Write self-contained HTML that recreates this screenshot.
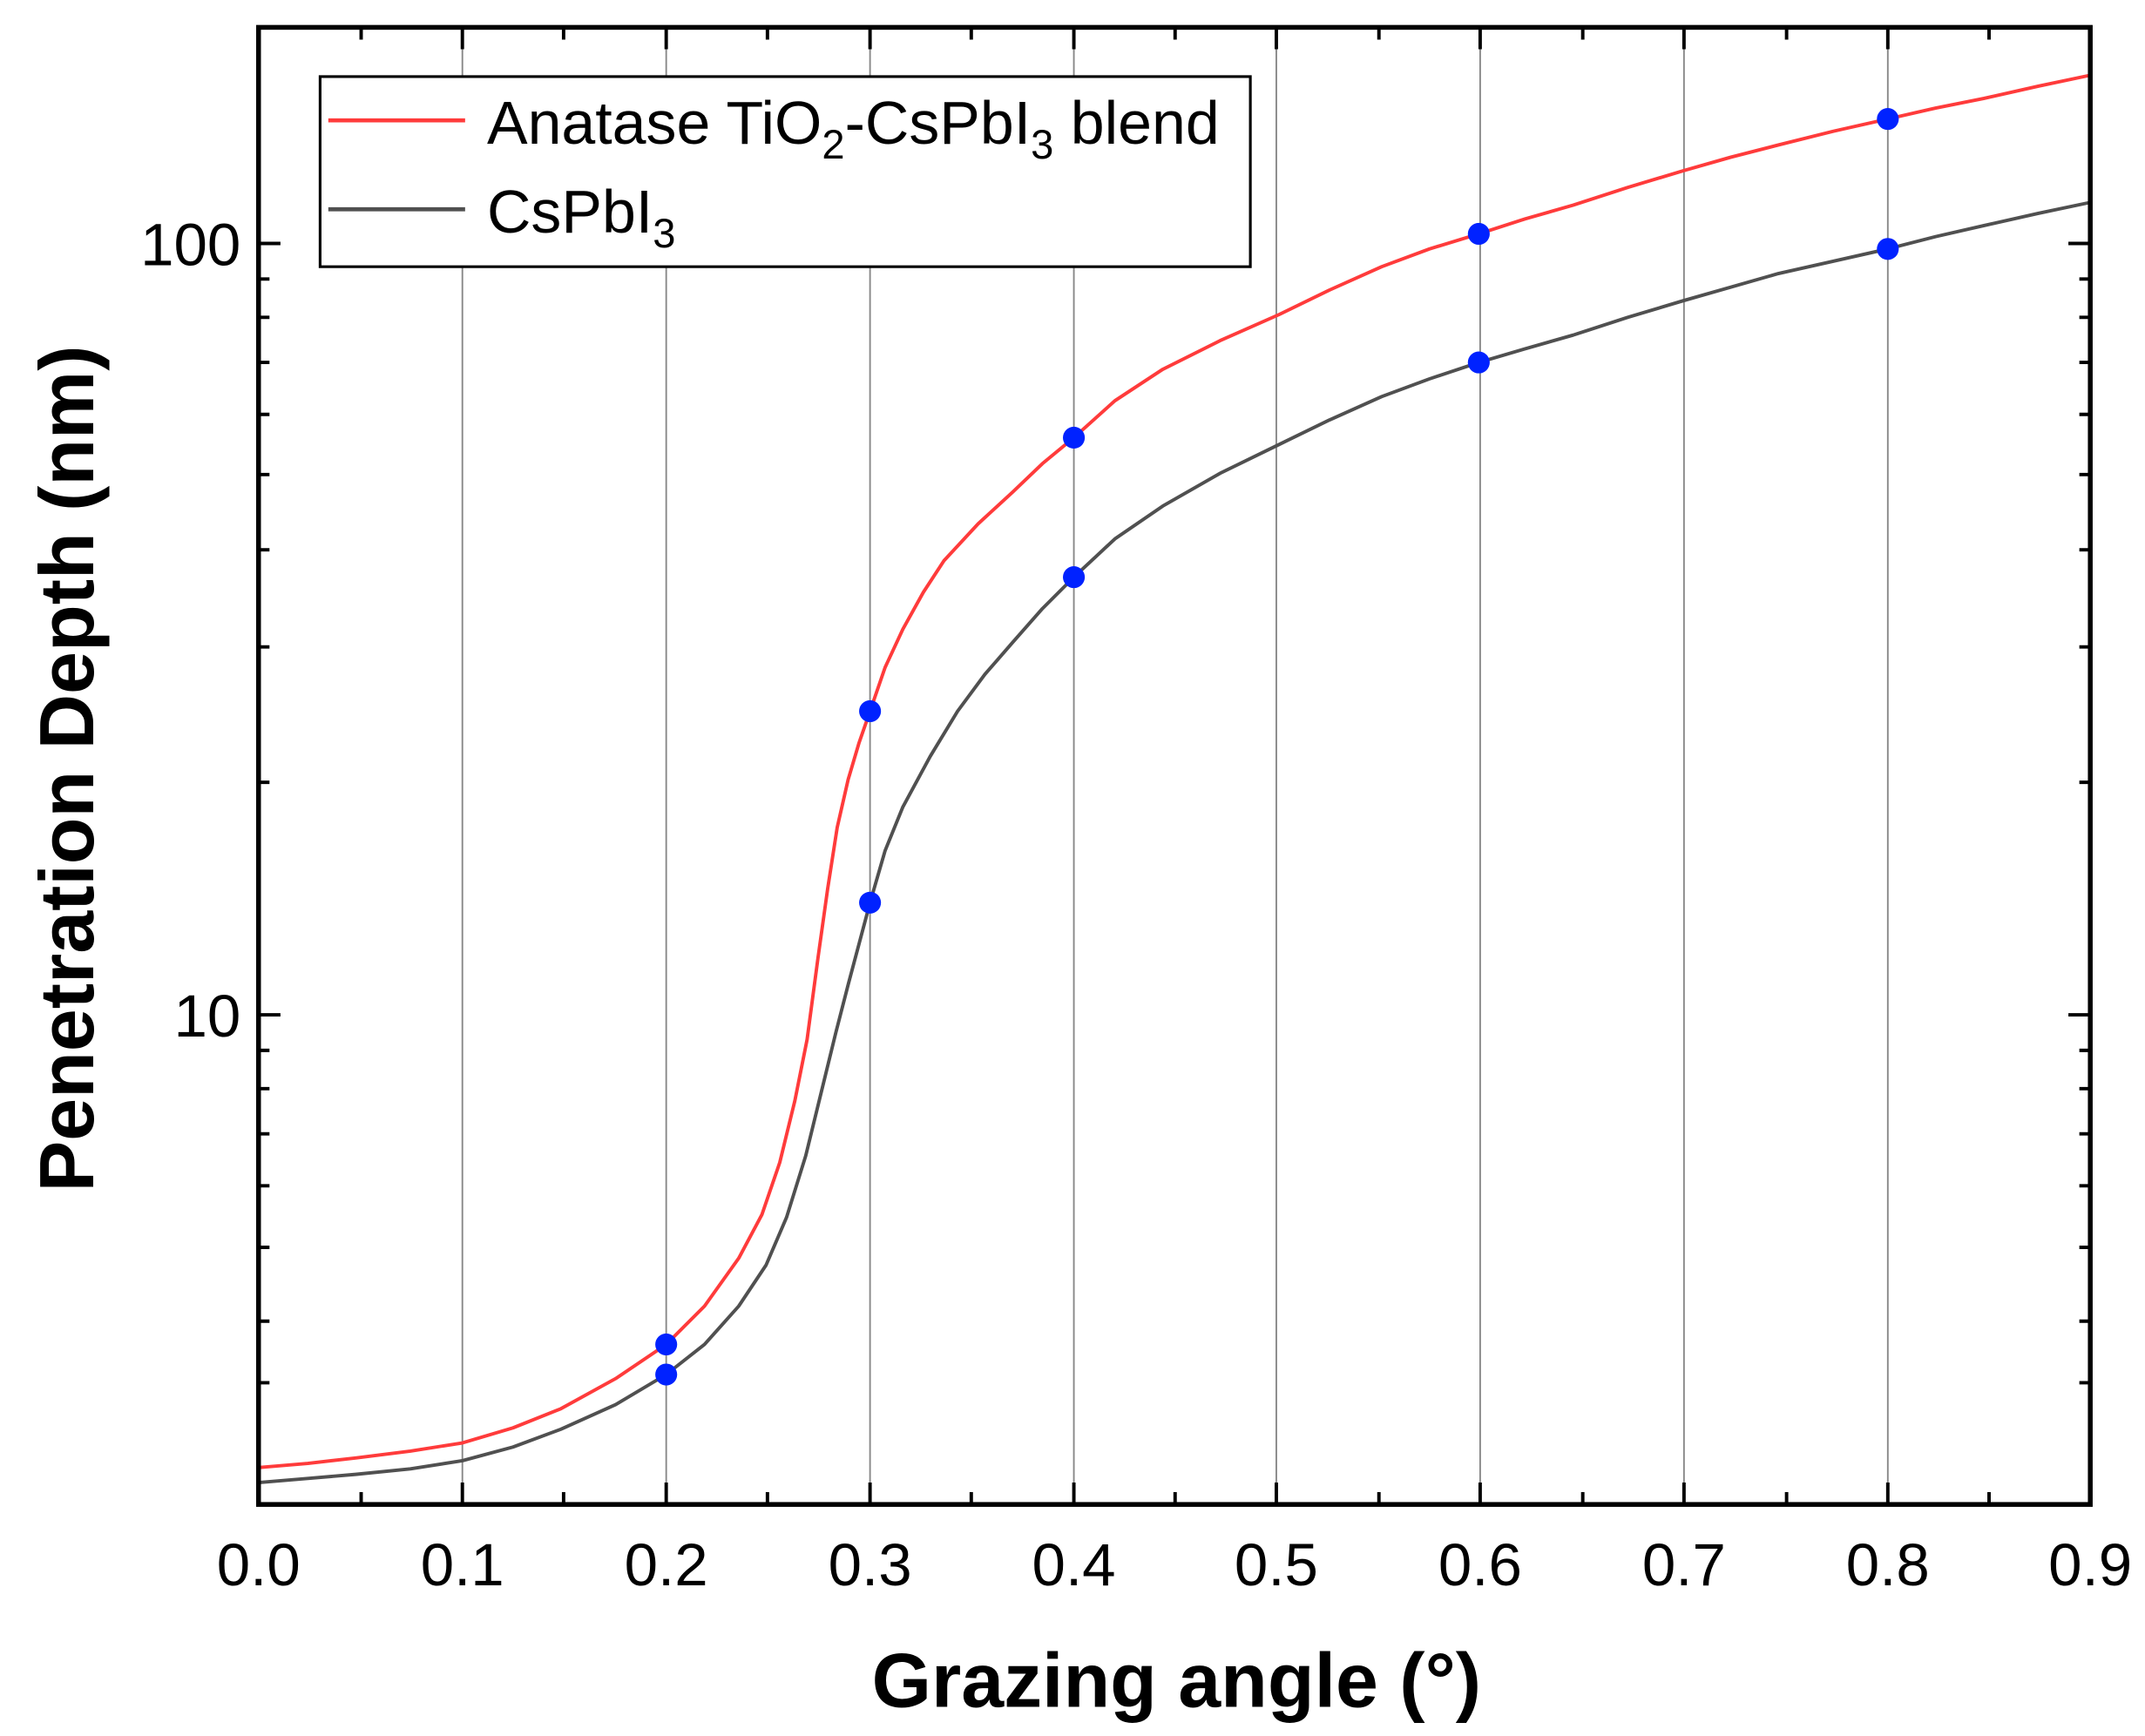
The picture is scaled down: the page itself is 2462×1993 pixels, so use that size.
<!DOCTYPE html>
<html><head><meta charset="utf-8"><style>html,body{margin:0;padding:0;background:#fff}svg{display:block}text{font-family:"Liberation Sans",Arial,sans-serif}</style></head><body>
<svg width="2462" height="1993" viewBox="0 0 1568 1269.3" xmlns="http://www.w3.org/2000/svg">
<g stroke="#888" stroke-width="1.2">
<line x1="338" y1="20" x2="338" y2="1100"/><line x1="487" y1="20" x2="487" y2="1100"/><line x1="636" y1="20" x2="636" y2="1100"/><line x1="785" y1="20" x2="785" y2="1100"/><line x1="933" y1="20" x2="933" y2="1100"/><line x1="1082" y1="20" x2="1082" y2="1100"/><line x1="1231" y1="20" x2="1231" y2="1100"/><line x1="1380" y1="20" x2="1380" y2="1100"/>
</g>
<polyline fill="none" stroke="#ff3b3b" stroke-width="2.5" stroke-linejoin="round" points="189,1073 225,1070 260,1066 300,1061 338,1055 375,1044 410,1030 450,1008 487,983 515,955 540,920 557,888 570,850 581,805 590,760 598,700 605,650 612,605 620,570 628,543 636,520 647,488 660,460 675,433 690,410 715,383 740,360 762,339 785,320 815,293 850,270 892,249 935,230 972,212 1010,195 1045,182 1081,171 1115,160 1150,150 1190,137 1230,125 1265,115 1300,106 1340,96 1380,87 1415,79 1450,72 1490,63 1528,55"/>
<polyline fill="none" stroke="#505050" stroke-width="2.5" stroke-linejoin="round" points="189,1084 225,1081 260,1078 300,1074 338,1068 375,1058 410,1045 450,1027 487,1005 515,983 540,955 560,925 575,890 589,845 600,800 611,755 620,720 628,690 636,660 647,622 660,590 680,553 700,520 720,493 740,470 762,445 785,422 815,394 850,370 892,346 935,325 972,307 1010,290 1045,277 1081,265 1115,255 1150,245 1190,232 1230,220 1265,210 1300,200 1340,191 1380,182 1415,173 1450,165 1490,156 1528,148"/>
<g fill="#0022ff">
<circle cx="487" cy="983" r="8"/><circle cx="636" cy="520" r="8"/><circle cx="785" cy="320" r="8"/><circle cx="1081" cy="171" r="8"/><circle cx="1380" cy="87" r="8"/>
<circle cx="487" cy="1005" r="8"/><circle cx="636" cy="660" r="8"/><circle cx="785" cy="422" r="8"/><circle cx="1081" cy="265" r="8"/><circle cx="1380" cy="182" r="8"/>
</g>
<g stroke="#000" stroke-width="2.5">
<path d="M338 1100v-16M487 1100v-16M636 1100v-16M785 1100v-16M933 1100v-16M1082 1100v-16M1231 1100v-16M1380 1100v-16M264 1100v-9M412 1100v-9M561 1100v-9M710 1100v-9M859 1100v-9M1008 1100v-9M1157 1100v-9M1306 1100v-9M1454 1100v-9"/>
<path d="M338 20v16M487 20v16M636 20v16M785 20v16M933 20v16M1082 20v16M1231 20v16M1380 20v16M264 20v9M412 20v9M561 20v9M710 20v9M859 20v9M1008 20v9M1157 20v9M1306 20v9M1454 20v9"/>
<path d="M189 742h16M189 178h16M1528 742h-16M1528 178h-16"/>
<path d="M189 1011h8M189 966h8M189 912h8M189 867h8M189 829h8M189 796h8M189 768h8M189 572h8M189 473h8M189 402h8M189 347h8M189 303h8M189 265h8M189 232h8M189 204h8"/>
<path d="M1528 1011h-8M1528 966h-8M1528 912h-8M1528 867h-8M1528 829h-8M1528 796h-8M1528 768h-8M1528 572h-8M1528 473h-8M1528 402h-8M1528 347h-8M1528 303h-8M1528 265h-8M1528 232h-8M1528 204h-8"/>
</g>
<rect x="189" y="20" width="1339" height="1080" fill="none" stroke="#000" stroke-width="3.5"/>
<g font-size="44" text-anchor="middle">
<text x="189" y="1159">0.0</text><text x="338" y="1159">0.1</text><text x="487" y="1159">0.2</text><text x="636" y="1159">0.3</text><text x="785" y="1159">0.4</text><text x="933" y="1159">0.5</text><text x="1082" y="1159">0.6</text><text x="1231" y="1159">0.7</text><text x="1380" y="1159">0.8</text><text x="1528" y="1159">0.9</text>
</g>
<g font-size="44" text-anchor="end">
<text x="176" y="194">100</text><text x="176" y="758">10</text>
</g>
<text x="860" y="1248" font-size="56" font-weight="bold" text-anchor="middle">Grazing angle (°)</text>
<text transform="translate(68,562) rotate(-90)" font-size="56" font-weight="bold" text-anchor="middle">Penetration Depth (nm)</text>
<rect x="234" y="56" width="680" height="139" fill="#fff" stroke="#000" stroke-width="2"/>
<line x1="240" y1="88" x2="340" y2="88" stroke="#ff3b3b" stroke-width="3"/>
<line x1="240" y1="153" x2="340" y2="153" stroke="#505050" stroke-width="3"/>
<text x="356" y="105" font-size="44.5">Anatase TiO<tspan font-size="30" dy="11">2</tspan><tspan dy="-11">-CsPbI</tspan><tspan font-size="30" dy="11">3</tspan><tspan dy="-11"> blend</tspan></text>
<text x="356" y="170" font-size="44.5">CsPbI<tspan font-size="30" dy="11">3</tspan></text>
</svg>
</body></html>
